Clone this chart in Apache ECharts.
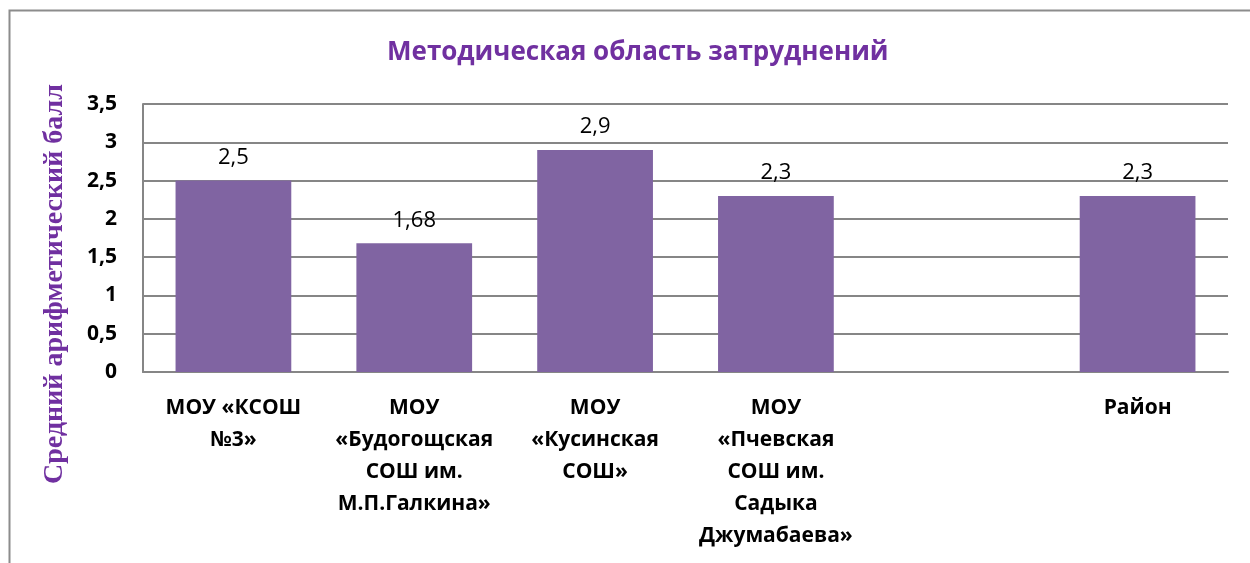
<!DOCTYPE html>
<html>
<head>
<meta charset="utf-8">
<script src="https://cdn.jsdelivr.net/npm/echarts@6/dist/echarts.min.js"></script>
<style>
  html, body { margin: 0; padding: 0; background: #fff; }
  #chart { width: 1250px; height: 563px; }
</style>
</head>
<body>
<div id="chart"></div>
<script>
var titleText = 'Методическая область затруднений';
var yTitle = 'Средний арифметический балл';
var schools = [
	'МОУ «КСОШ\n№3»',
	'МОУ\n«Будогощская\nСОШ им.\nМ.П.Галкина»',
	'МОУ\n«Кусинская\nСОШ»',
	'МОУ\n«Пчевская\nСОШ им.\nСадыка\nДжумабаева»',
	'',
	'Район'
];
var scores = [2.5, 1.68, 2.9, 2.3, null, 2.3];
var yMin = 0, yMax = 3.5, yStep = 0.5;

function comma(v) {
	return String(v).replace('.', ',');
}

var myChart = echarts.init(document.getElementById('chart'));
myChart.setOption({
	animation: false,
	title: {
		text: titleText,
		left: 382,
		top: 35,
		textStyle: {
			color: '#7030A0',
			fontFamily: 'Open Sans',
			fontWeight: 'bold',
			fontSize: 26
		}
	},
	graphic: [
		{
			type: 'rect',
			shape: { x: 9.5, y: 10.5, width: 1300, height: 700 },
			style: { fill: 'none', stroke: '#8c8c8c', lineWidth: 2 },
			silent: true
		},
		{
			type: 'text',
			x: 55,
			y: 284,
			rotation: Math.PI / 2,
			style: {
				text: yTitle,
				fill: '#7030A0',
				font: 'bold 28px "Liberation Serif"',
				align: 'center',
				verticalAlign: 'middle'
			}
		}
	],
	grid: { left: 143, right: 22, top: 104, bottom: 191 },
	xAxis: {
		type: 'category',
		data: schools,
		axisLine: { lineStyle: { color: '#868686', width: 2 } },
		axisTick: { show: false },
		axisLabel: {
			interval: 0,
			margin: 20,
			color: '#000',
			fontFamily: 'Open Sans',
			fontWeight: 'bold',
			fontSize: 21,
			lineHeight: 32
		}
	},
	yAxis: {
		type: 'value',
		min: yMin,
		max: yMax,
		interval: yStep,
		axisLine: { show: true, lineStyle: { color: '#868686', width: 2 } },
		axisTick: { show: false },
		splitLine: { lineStyle: { color: '#868686', width: 2 } },
		axisLabel: {
			margin: 26,
			color: '#000',
			fontFamily: 'Open Sans',
			fontWeight: 'bold',
			fontSize: 21,
			formatter: function (v) { return comma(v); }
		}
	},
	series: [{
		type: 'bar',
		data: scores,
		barWidth: '64%',
		itemStyle: { color: '#8064A2' },
		label: {
			show: true,
			position: 'top',
			distance: 12,
			color: '#000',
			fontFamily: 'Open Sans',
			fontSize: 22,
			formatter: function (p) { return comma(p.value); }
		}
	}]
});
</script>
</body>
</html>
